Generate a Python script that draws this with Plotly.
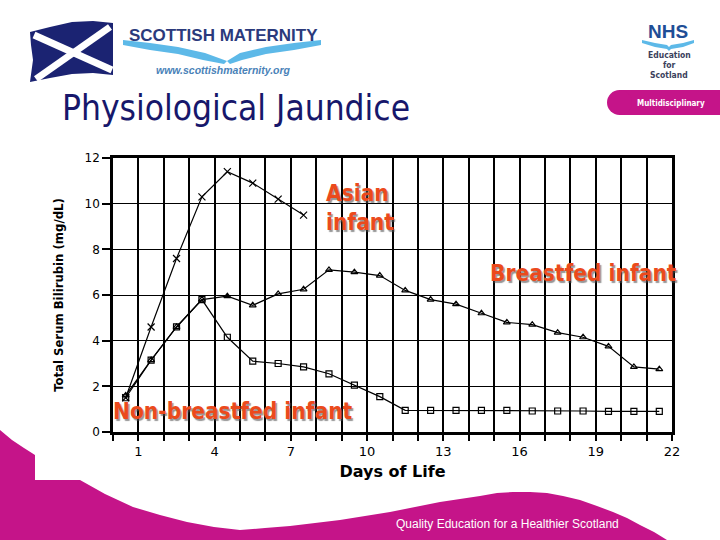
import plotly.graph_objects as go

# ---------------- data ----------------
days = [0.5, 1.5, 2.5, 3.5, 4.5, 5.5, 6.5, 7.5, 8.5, 9.5, 10.5,
        11.5, 12.5, 13.5, 14.5, 15.5, 16.5, 17.5, 18.5, 19.5, 20.5, 21.5]
asian_days = [0.5, 1.5, 2.5, 3.5, 4.5, 5.5, 6.5, 7.5]
asian_tsb = [1.5, 4.6, 7.6, 10.3, 11.4, 10.9, 10.2, 9.5]
breastfed_tsb = [1.6, 3.15, 4.6, 5.8, 5.95, 5.55, 6.05, 6.25, 7.1, 7.0, 6.85,
                 6.2, 5.8, 5.6, 5.2, 4.8, 4.7, 4.35, 4.15, 3.75, 2.85, 2.75]
nonbreastfed_tsb = [1.5, 3.15, 4.6, 5.8, 4.15, 3.1, 3.0, 2.85, 2.55, 2.05, 1.55,
                    0.95, 0.95, 0.95, 0.95, 0.95, 0.92, 0.92, 0.92, 0.9, 0.9, 0.9]
x_grid_days = list(range(0, 23))
x_label_days = [1, 4, 7, 10, 13, 16, 19, 22]
y_ticks = [0, 2, 4, 6, 8, 10, 12]

# ---------------- layout geometry ----------------
W, H = 720, 540
L, R, T, B = 113, 48, 158, 108
PW, PH = W - L - R, H - T - B


def px(x):
    return (x - L) / PW


def py(y):
    return (H - B - y) / PH


def path(points, close=True):
    s = "M {:.5f},{:.5f} ".format(px(points[0][0]), py(points[0][1]))
    for x, y in points[1:]:
        s += "L {:.5f},{:.5f} ".format(px(x), py(y))
    if close:
        s += "Z"
    return s


MAGENTA = "#C51489"
NAVY = "#1B2372"
LABEL = "#EB4A1C"
SKY = "#5DB9E8"

fig = go.Figure()

fig.add_trace(go.Scatter(
    x=asian_days, y=asian_tsb, mode="lines+markers", name="Asian infant",
    line=dict(color="black", width=1.2),
    marker=dict(symbol="x-thin-open", size=7, line=dict(color="black", width=1.2))))
fig.add_trace(go.Scatter(
    x=days, y=breastfed_tsb, mode="lines+markers", name="Breastfed infant",
    line=dict(color="black", width=1.2),
    marker=dict(symbol="triangle-up-open", size=6, color="black",
                line=dict(color="black", width=1.2))))
fig.add_trace(go.Scatter(
    x=days, y=nonbreastfed_tsb, mode="lines+markers", name="Non-breastfed infant",
    line=dict(color="black", width=1.2),
    marker=dict(symbol="square-open", size=6, color="black",
                line=dict(color="black", width=1.2))))

shapes = []
# magenta wave at bottom
wave = [(0, 430), (12, 440), (24, 448), (35, 455), (35, 480), (80, 480),
        (105, 494), (133, 507), (160, 515), (187, 522), (214, 527), (240, 530),
        (265, 528), (290, 526), (315, 523), (340, 520), (365, 516), (390, 512),
        (415, 507), (440, 502), (460, 499), (480, 496), (497, 493), (513, 492),
        (530, 492), (547, 493), (563, 496), (580, 500), (597, 506), (613, 512),
        (627, 518), (640, 525), (654, 532), (667, 540), (0, 540)]
shapes.append(dict(type="path", xref="paper", yref="paper", path=path(wave),
                   fillcolor=MAGENTA, line=dict(width=0), layer="below"))
# multidisciplinary pill
pill = [(619, 90), (720, 90), (720, 115), (619, 115)]
shapes.append(dict(type="path", xref="paper", yref="paper", path=path(pill),
                   fillcolor=MAGENTA, line=dict(width=0), layer="below"))
shapes.append(dict(type="circle", xref="paper", yref="paper",
                   x0=px(607), x1=px(632), y0=py(115), y1=py(90),
                   fillcolor=MAGENTA, line=dict(width=0), layer="below"))
# saltire flag
flag = [(30, 32), (50, 27), (72, 22), (93, 21), (113, 23), (113, 75),
        (93, 73), (72, 74), (50, 78), (30, 82), (33, 60), (31, 45)]
shapes.append(dict(type="path", xref="paper", yref="paper", path=path(flag),
                   fillcolor=NAVY, line=dict(width=0), layer="below"))
shapes.append(dict(type="line", xref="paper", yref="paper",
                   x0=px(34), y0=py(35), x1=px(112), y1=py(70),
                   line=dict(color="white", width=7), layer="below"))
shapes.append(dict(type="line", xref="paper", yref="paper",
                   x0=px(110), y0=py(27), x1=px(36), y1=py(79),
                   line=dict(color="white", width=7), layer="below"))
# light blue swooshes of the Scottish Maternity logo
swl = [(123, 40), (150, 43), (178, 47), (205, 53), (227, 61),
       (224, 64), (203, 60), (178, 54), (150, 50), (123, 45)]
swr = [(321, 40), (294, 43), (266, 47), (240, 53), (227, 61),
       (230, 64), (242, 60), (266, 54), (294, 50), (321, 45)]
for sw in (swl, swr):
    shapes.append(dict(type="path", xref="paper", yref="paper", path=path(sw),
                       fillcolor=SKY, line=dict(width=0), layer="below"))
# NHS wave
nw = [(642, 40), (655, 43), (667, 45), (669, 47), (671, 45), (683, 43), (694, 40),
      (694, 43), (683, 47), (671, 49), (669, 51), (667, 49), (655, 47), (642, 43)]
shapes.append(dict(type="path", xref="paper", yref="paper", path=path(nw),
                   fillcolor=SKY, line=dict(width=0), layer="below"))

annotations = []


def text(x, y, s, size, color, family, anchor="center", shadow=None, **kw):
    font = dict(size=size, color=color, family=family)
    if shadow:
        font["shadow"] = shadow
    annotations.append(dict(xref="paper", yref="paper", x=px(x), y=py(y), text=s,
                            showarrow=False, xanchor=anchor, yanchor="middle",
                            font=font, **kw))


text(60, 108, "Physiological Jaundice", 35, "#17176B", "DejaVu Sans Condensed", "left")
text(223, 35, "<b>SCOTTISH MATERNITY</b>", 17, "#2B3A7C", "Liberation Sans")
text(223, 70, "<b><i>www.scottishmaternity.org</i></b>", 10.5, "#4A82B8", "Liberation Sans")
text(668, 31, "<b>NHS</b>", 19, "#1F4E96", "Liberation Sans")
text(669, 55, "<b>Education</b>", 8.5, "#3B3F5C", "DejaVu Sans Condensed")
text(669, 65, "<b>for</b>", 8.5, "#3B3F5C", "DejaVu Sans Condensed")
text(669, 75, "<b>Scotland</b>", 8.5, "#3B3F5C", "DejaVu Sans Condensed")
text(671, 103, "<b>Multidisciplinary</b>", 8, "white", "DejaVu Sans Condensed")
text(507, 524, "Quality Education for a Healthier Scotland", 12, "white", "Liberation Sans")

# series labels (with drop shadow)
SHADOW = "1.5px 1.5px 1px rgba(80,80,80,0.6)"
text(324, 207, "<b>Asian<br>infant</b>", 22.5, LABEL, "DejaVu Sans Condensed", "left",
     shadow=SHADOW, align="left")
text(488, 273, "<b>Breastfed infant</b>", 22.5, LABEL, "DejaVu Sans Condensed", "left",
     shadow=SHADOW)
text(111, 411, "<b>Non-breastfed infant</b>", 22.5, LABEL, "DejaVu Sans Condensed", "left",
     shadow=SHADOW)

fig.update_layout(
    width=W, height=H, margin=dict(l=L, r=R, t=T, b=B, autoexpand=False),
    paper_bgcolor="white", plot_bgcolor="white", showlegend=False,
    shapes=shapes, annotations=annotations,
    xaxis=dict(range=[0, 22], tickmode="array", tickvals=x_grid_days,
               ticktext=[str(d) if d in x_label_days else "" for d in x_grid_days],
               showgrid=True, gridcolor="black", gridwidth=1.8,
               showline=True, linecolor="black", linewidth=2.5, mirror=True,
               ticks="outside", ticklen=6, tickwidth=1.8, tickcolor="black",
               zeroline=False,
               tickfont=dict(family="DejaVu Sans", size=13, color="black"),
               title=dict(text="<b>Days of Life</b>", standoff=8,
                          font=dict(family="DejaVu Sans", size=16, color="black"))),
    yaxis=dict(range=[0, 12], tickmode="array", tickvals=y_ticks,
               showgrid=True, gridcolor="black", gridwidth=1.4,
               showline=True, linecolor="black", linewidth=2.5, mirror=True,
               ticks="outside", ticklen=8, tickwidth=1.5, tickcolor="black",
               zeroline=False,
               tickfont=dict(family="DejaVu Sans", size=12, color="black"),
               title=dict(text="<b>Total Serum Bilirubin (mg/dL)</b>", standoff=19,
                          font=dict(family="DejaVu Sans Condensed",
                                    size=13, color="black"))),
)

fig.write_html("out.html", config={"displayModeBar": False})

# remove the browser's default page margin so the figure fills the window exactly
with open("out.html", encoding="utf-8") as f:
    html = f.read()
html = html.replace("<head>", "<head><style>html,body{margin:0;padding:0;overflow:hidden;}</style>", 1)
with open("out.html", "w", encoding="utf-8") as f:
    f.write(html)
